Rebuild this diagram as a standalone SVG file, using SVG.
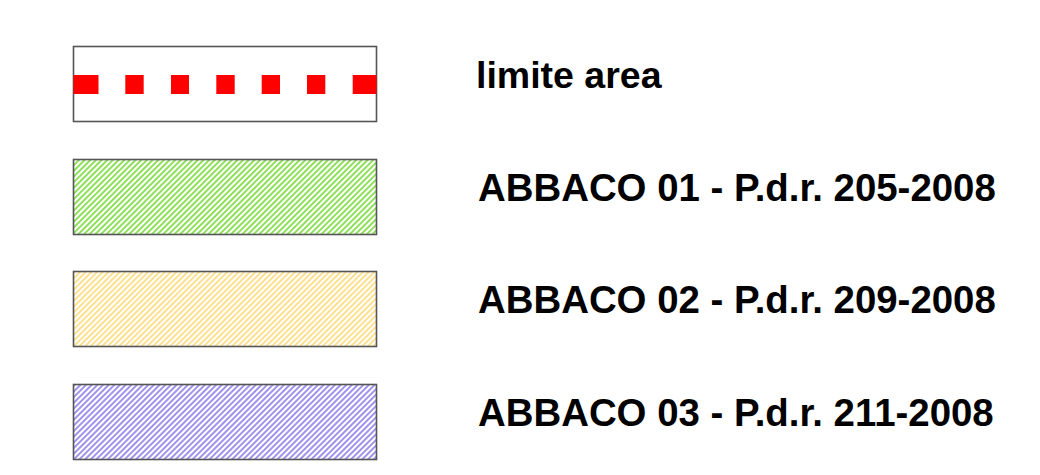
<svg xmlns="http://www.w3.org/2000/svg" width="1040" height="475" viewBox="0 0 1040 475">
<style>
.box{stroke:#555;stroke-width:1.6}
.lbl{font-family:"Liberation Sans",Arial,sans-serif;font-weight:bold;font-size:37.5px;fill:#000}
.big{font-size:38.4px}
.dash{fill:#ff0000}
</style>
<defs>
<pattern id="hG" patternUnits="userSpaceOnUse" width="4" height="4" patternTransform="rotate(-45)">
<rect width="4" height="4" fill="#fff"/><rect width="4" height="2" fill="#8ee05a"/>
</pattern>
<pattern id="hY" patternUnits="userSpaceOnUse" width="4" height="4" patternTransform="rotate(-45)">
<rect width="4" height="4" fill="#fff"/><rect width="4" height="2" fill="#ffe08f"/>
</pattern>
<pattern id="hP" patternUnits="userSpaceOnUse" width="4" height="4" patternTransform="rotate(-45)">
<rect width="4" height="4" fill="#fff"/><rect width="4" height="2" fill="#a293ea"/>
</pattern>
</defs>
<rect width="1040" height="475" fill="#fff"/>
<g id="legend-limite">
<rect class="box" x="73.5" y="46.5" width="303" height="75" fill="#fff"/>
<rect class="dash" x="73.5" y="75" width="25" height="19"/>
<rect class="dash" x="125.3" y="75" width="18.4" height="19"/>
<rect class="dash" x="171" y="75" width="18" height="19"/>
<rect class="dash" x="216.3" y="75" width="18.4" height="19"/>
<rect class="dash" x="261.7" y="75" width="18.3" height="19"/>
<rect class="dash" x="307" y="75" width="18.3" height="19"/>
<rect class="dash" x="352.7" y="75" width="23.8" height="19"/>
<text class="lbl" x="476" y="88">limite area</text>
</g>
<g id="legend-abbaco01">
<rect class="box" x="73.5" y="159.5" width="303" height="75" fill="url(#hG)"/>
<text class="lbl big" x="478" y="201">ABBACO 01 - P.d.r. 205-2008</text>
</g>
<g id="legend-abbaco02">
<rect class="box" x="73.5" y="271.5" width="303" height="75" fill="url(#hY)"/>
<text class="lbl big" x="478" y="313">ABBACO 02 - P.d.r. 209-2008</text>
</g>
<g id="legend-abbaco03">
<rect class="box" x="73.5" y="384.5" width="303" height="75" fill="url(#hP)"/>
<text class="lbl big" x="478" y="426">ABBACO 03 - P.d.r. 211-2008</text>
</g>
<g id="connectors"/>
</svg>
